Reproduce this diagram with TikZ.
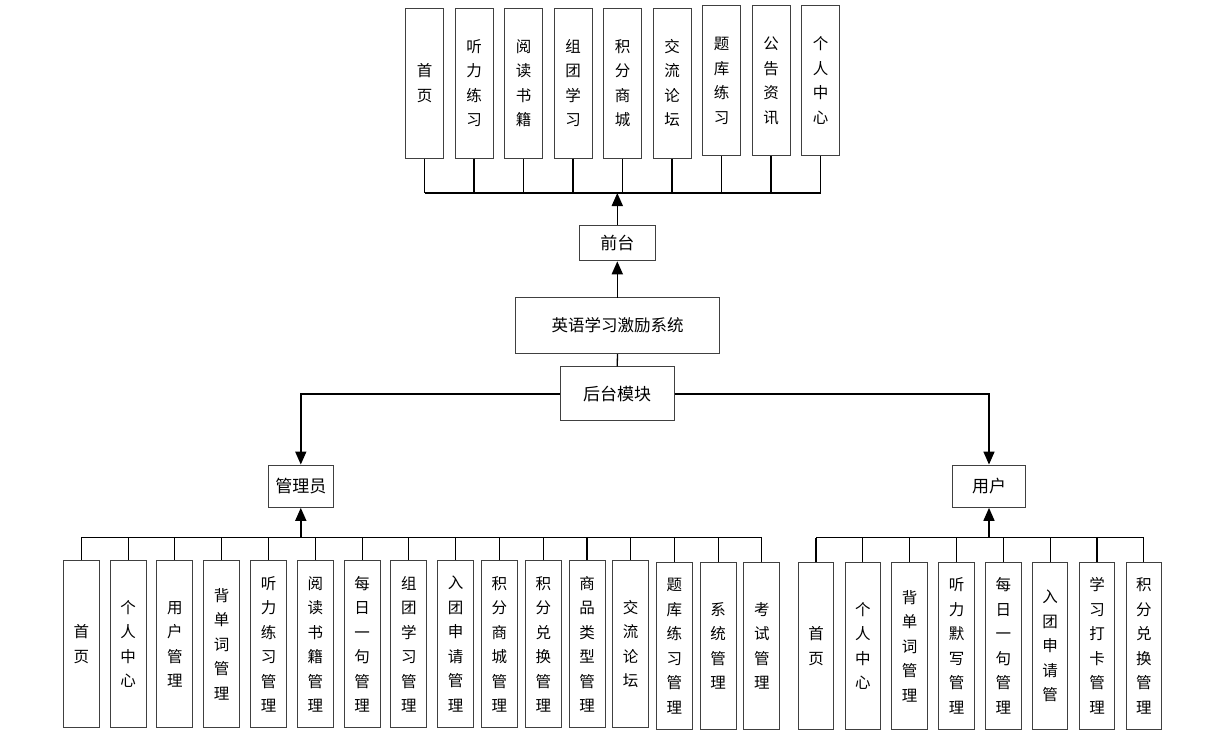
\documentclass[tikz,border=0pt]{standalone}
\usepackage{fontspec}
\newfontfamily\cjk{Noto Sans CJK SC}
\usetikzlibrary{arrows.meta}
\tikzset{vbox/.style={draw=black!75, line width=1pt, fill=white, inner sep=0pt, align=center, font=\cjk\fontsize{15.5}{24.5}\selectfont},
  hbox/.style={draw=black!75, line width=1pt, fill=white, inner sep=0pt, font=\cjk\fontsize{17}{19}\selectfont},
  wire/.style={line width=1.3pt},
  arr/.style={line width=1.6pt, -{Triangle[width=11pt,length=13pt]}}}

\begin{document}
\begin{tikzpicture}[x=1pt,y=-1pt]
      \useasboundingbox (0,0) rectangle (1213,736);
      % front end
      \foreach \i/\x/\y/\txt in {1/424.5/83/{首\\页}, 2/474/83/{听\\力\\练\\习}, 3/523.5/83/{阅\\读\\书\\籍},
        4/573/83/{组\\团\\学\\习}, 5/622.5/83/{积\\分\\商\\城}, 6/672/83/{交\\流\\论\\坛},
        7/721.5/80.7/{题\\库\\练\\习}, 8/771/80.7/{公\\告\\资\\讯}, 9/820.5/80.7/{个\\人\\中\\心}}
        \node [vbox, minimum width=38pt, minimum height=150pt] (t\i) at (\x,\y) {\txt};
      \coordinate (bt) at (617,193);
      \node [hbox, minimum width=76pt, minimum height=35pt] (qt) at (617.3,243.3) {前台};
      \node [hbox, minimum width=204pt, minimum height=56pt, font=\cjk\fontsize{16.5}{18}\selectfont] (sys) at (617.5,325.7) {英语学习激励系统};
      \node [hbox, minimum width=114pt, minimum height=54pt] (ht) at (617.2,393.8) {后台模块};
      \node [hbox, minimum width=65pt, minimum height=42.3pt] (gly) at (300.8,486.2) {管理员};
      \node [hbox, minimum width=72.6pt, minimum height=42.3pt] (yh) at (989,486.2) {用户};
      \foreach \i in {1,...,9}
        \draw [wire] (t\i.south) -- (t\i.south |- bt);
      \draw [wire] (t1.south |- bt) -- (t9.south |- bt);
      \draw [arr] (qt.north) -- (qt.north |- bt);
      \draw [arr] (sys.north) -- (sys.north -| qt.south) -- (qt.south);
      \draw [wire] (sys.south) -- (ht.north);
      \draw [arr] (ht.west) -| (gly.north);
      \draw [arr] (ht.east) -| (yh.north);
      % admin
      \coordinate (ba) at (300.8,537.5);
      \foreach \i/\x/\y/\txt in {1/81.3/644.2/{首\\页}, 2/128.2/644.2/{个\\人\\中\\心}, 3/174.8/644.2/{用\\户\\管\\理},
        4/221.5/644.2/{背\\单\\词\\管\\理}, 5/268.5/644.2/{听\\力\\练\\习\\管\\理}, 6/315.3/644.2/{阅\\读\\书\\籍\\管\\理},
        7/362.2/644.2/{每\\日\\一\\句\\管\\理}, 8/408.8/644.2/{组\\团\\学\\习\\管\\理}, 9/455.7/644.2/{入\\团\\申\\请\\管\\理},
        10/499.3/644.2/{积\\分\\商\\城\\管\\理}, 11/543.3/644.2/{积\\分\\兑\\换\\管\\理}, 12/587/644.2/{商\\品\\类\\型\\管\\理},
        13/630.7/644.2/{交\\流\\论\\坛}, 14/674.3/646/{题\\库\\练\\习\\管\\理}, 15/718.2/646/{系\\统\\管\\理},
        16/761.8/646/{考\\试\\管\\理}}
        {
        \node [vbox, minimum width=36pt, minimum height=167pt] (a\i) at (\x,\y) {\txt};
        \draw [wire] (a\i.north) -- (a\i.north |- ba);
        }
      \draw [wire] (a1.north |- ba) -- (a16.north |- ba);
      \draw [arr] (gly.south |- ba) -- (gly.south);
      % user
      \coordinate (bu) at (989,537.7);
      \foreach \i/\x/\txt in {1/816/{首\\页}, 2/862.8/{个\\人\\中\\心}, 3/909.5/{背\\单\\词\\管\\理},
        4/956.5/{听\\力\\默\\写\\管\\理}, 5/1003.3/{每\\日\\一\\句\\管\\理}, 6/1050.2/{入\\团\\申\\请\\管},
        7/1097/{学\\习\\打\\卡\\管\\理}, 8/1143.8/{积\\分\\兑\\换\\管\\理}}
        {
        \node [vbox, minimum width=35.5pt, minimum height=166.6pt] (u\i) at (\x,646) {\txt};
        \draw [wire] (u\i.north) -- (u\i.north |- bu);
        }
      \draw [wire] (u1.north |- bu) -- (u8.north |- bu);
      \draw [arr] (yh.south |- bu) -- (yh.south);
\end{tikzpicture}
\end{document}
